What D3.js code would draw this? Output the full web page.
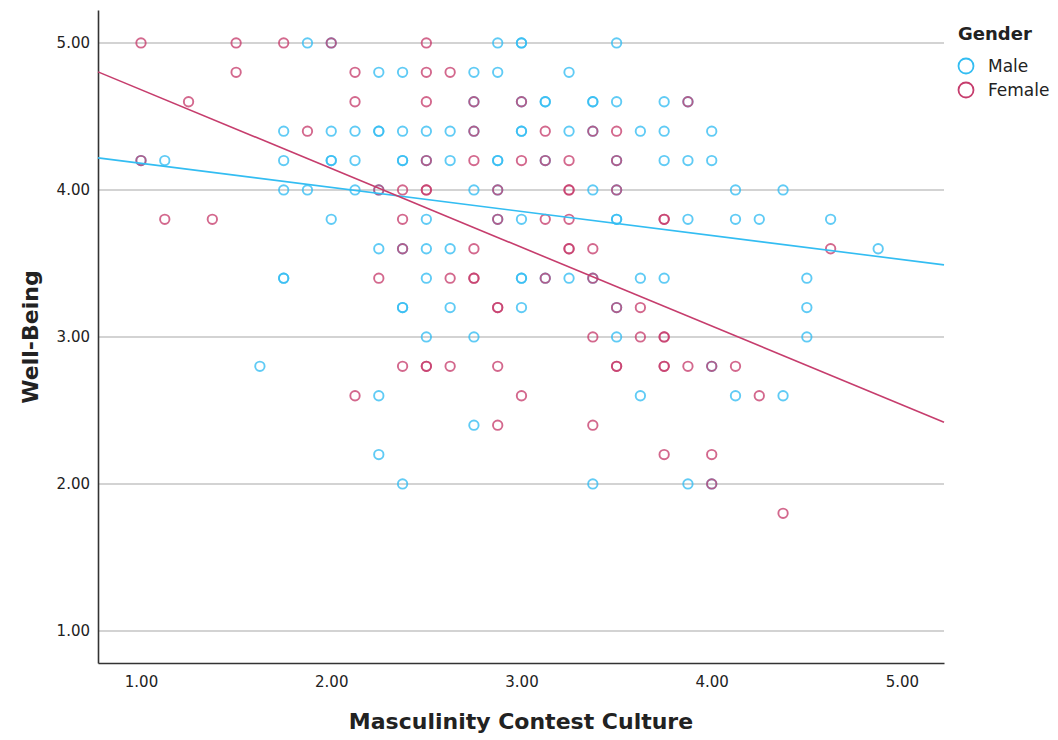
<!DOCTYPE html>
<html lang="en">
<head>
  <meta charset="UTF-8">
  <title>Well-Being by Masculinity Contest Culture</title>
  <script src="https://cdn.jsdelivr.net/npm/d3@7"></script>
  <style>
    body { margin: 0; background: #fff; }
    text { font-family: "DejaVu Sans", sans-serif; fill: #222; }
  </style>
</head>
<body>
  <svg width="1058" height="740"></svg>
  <script>
    // data (x = MCC score, y = well-being)
    var malePoints = [
      [1.875,5],[2,5],[2.875,5],[3,5],[3,5],[3.5,5],
      [2.25,4.8],[2.375,4.8],[2.75,4.8],[2.875,4.8],[3.25,4.8],
      [2.75,4.6],[3,4.6],[3.125,4.6],[3.125,4.6],[3.375,4.6],[3.375,4.6],[3.5,4.6],[3.75,4.6],[3.875,4.6],
      [1.75,4.4],[2,4.4],[2.125,4.4],[2.25,4.4],[2.25,4.4],[2.375,4.4],[2.5,4.4],[2.625,4.4],[2.75,4.4],[3,4.4],[3,4.4],[3.25,4.4],[3.375,4.4],[3.625,4.4],[3.75,4.4],[4,4.4],
      [1,4.2],[1.125,4.2],[1.75,4.2],[2,4.2],[2,4.2],[2.125,4.2],[2.375,4.2],[2.375,4.2],[2.5,4.2],[2.625,4.2],[2.875,4.2],[2.875,4.2],[3.125,4.2],[3.5,4.2],[3.75,4.2],[3.875,4.2],[4,4.2],
      [1.75,4],[1.875,4],[2.125,4],[2.25,4],[2.75,4],[2.875,4],[3.375,4],[3.5,4],[4.125,4],[4.375,4],
      [2,3.8],[2.5,3.8],[2.875,3.8],[3,3.8],[3.5,3.8],[3.5,3.8],[3.875,3.8],[4.125,3.8],[4.25,3.8],[4.625,3.8],
      [2.25,3.6],[2.375,3.6],[2.5,3.6],[2.625,3.6],[4.875,3.6],
      [1.75,3.4],[1.75,3.4],[2.5,3.4],[3,3.4],[3,3.4],[3.125,3.4],[3.25,3.4],[3.375,3.4],[3.625,3.4],[3.75,3.4],[4.5,3.4],
      [2.375,3.2],[2.375,3.2],[2.625,3.2],[3,3.2],[3.5,3.2],[4.5,3.2],
      [2.5,3],[2.75,3],[3.5,3],[4.5,3],
      [1.625,2.8],[4,2.8],
      [2.25,2.6],[3.625,2.6],[4.125,2.6],[4.375,2.6],
      [2.75,2.4],[2.25,2.2],
      [2.375,2],[3.375,2],[3.875,2],[4,2]
    ];
    var femalePoints = [
      [1,5],[1.5,5],[1.75,5],[2,5],[2.5,5],
      [1.5,4.8],[2.125,4.8],[2.5,4.8],[2.625,4.8],
      [1.25,4.6],[2.125,4.6],[2.5,4.6],[2.75,4.6],[3,4.6],[3.875,4.6],
      [1.875,4.4],[2.75,4.4],[3.125,4.4],[3.375,4.4],[3.5,4.4],
      [1,4.2],[2.5,4.2],[2.75,4.2],[3,4.2],[3.125,4.2],[3.25,4.2],[3.5,4.2],
      [2.25,4],[2.375,4],[2.5,4],[2.5,4],[2.875,4],[3.25,4],[3.25,4],[3.5,4],
      [1.125,3.8],[1.375,3.8],[2.375,3.8],[2.875,3.8],[3.125,3.8],[3.25,3.8],[3.75,3.8],[3.75,3.8],
      [2.375,3.6],[2.75,3.6],[3.25,3.6],[3.25,3.6],[3.375,3.6],[4.625,3.6],
      [2.25,3.4],[2.625,3.4],[2.75,3.4],[2.75,3.4],[3.125,3.4],[3.375,3.4],
      [2.875,3.2],[2.875,3.2],[3.5,3.2],[3.625,3.2],
      [3.375,3],[3.625,3],[3.75,3],[3.75,3],
      [2.375,2.8],[2.5,2.8],[2.5,2.8],[2.625,2.8],[2.875,2.8],[3.5,2.8],[3.5,2.8],[3.75,2.8],[3.75,2.8],[3.875,2.8],[4,2.8],[4.125,2.8],
      [2.125,2.6],[3,2.6],[4.25,2.6],
      [2.875,2.4],[3.375,2.4],
      [3.75,2.2],[4,2.2],
      [4,2],
      [4.375,1.8]
    ];
    // fit lines as drawn: [intercept, slope]
    var maleFit = [4.345, -0.1637];
    var femaleFit = [5.218, -0.536];

    var xTicks = [1, 2, 3, 4, 5];
    var yTicks = [1, 2, 3, 4, 5];
    var groups = ['Male', 'Female'];
    var colors = {Male: '#33bdf2', Female: '#c63d6d'};

    var svg = d3.select('svg');
    var plot = {left: 98, right: 944, top: 10, bottom: 663};

    var xScale = d3.scaleLinear().domain([0.774, 5.221]).range([plot.left, plot.right]);
    var yScale = d3.scaleLinear().domain([0.782, 5.224]).range([plot.bottom, plot.top]);

    // gridlines
    svg.append('g')
      .selectAll('line')
      .data(yTicks)
      .enter().append('line')
      .attr('x1', plot.left)
      .attr('x2', plot.right)
      .attr('y1', function(d) { return yScale(d); })
      .attr('y2', function(d) { return yScale(d); })
      .attr('stroke', '#c4c4c4')
      .attr('stroke-width', 1.5);

    var fmt = d3.format('.2f');
    var xAxis = d3.axisBottom(xScale).tickValues(xTicks).tickFormat(fmt)
      .tickSize(0).tickSizeOuter(0).tickPadding(13);
    var yAxis = d3.axisLeft(yScale).tickValues(yTicks).tickFormat(fmt)
      .tickSize(0).tickSizeOuter(0).tickPadding(8);

    var gx = svg.append('g')
      .attr('transform', 'translate(0,' + plot.bottom + ')')
      .call(xAxis);
    var gy = svg.append('g')
      .attr('transform', 'translate(' + plot.left + ',0)')
      .call(yAxis);
    [gx, gy].forEach(function(g) {
      g.attr('font-size', null).attr('font-family', null);
      g.select('.domain').attr('stroke', '#333').attr('stroke-width', 1.6);
      g.selectAll('text').style('font-size', '15px').attr('fill', '#222');
    });

    // points
    function drawPoints(points, group) {
      svg.append('g')
        .selectAll('circle')
        .data(points)
        .enter().append('circle')
        .attr('cx', function(d) { return xScale(d[0]); })
        .attr('cy', function(d) { return yScale(d[1]); })
        .attr('r', 4.7)
        .attr('fill', 'none')
        .attr('stroke', colors[group])
        .attr('stroke-opacity', 0.78)
        .attr('stroke-width', 1.9);
    }
    drawPoints(malePoints, 'Male');
    drawPoints(femalePoints, 'Female');

    // fit lines
    function drawFit(fit, group) {
      var xs = xScale.domain();
      svg.append('line')
        .attr('x1', xScale(xs[0]))
        .attr('x2', xScale(xs[1]))
        .attr('y1', yScale(fit[0] + fit[1] * xs[0]))
        .attr('y2', yScale(fit[0] + fit[1] * xs[1]))
        .attr('stroke', colors[group])
        .attr('stroke-width', 1.6);
    }
    drawFit(maleFit, 'Male');
    drawFit(femaleFit, 'Female');

    // axis titles
    svg.append('text')
      .attr('x', 521)
      .attr('y', 729)
      .attr('text-anchor', 'middle')
      .style('font-size', '22px')
      .style('font-weight', 'bold')
      .text('Masculinity Contest Culture');
    svg.append('text')
      .attr('transform', 'translate(38,337) rotate(-90)')
      .attr('text-anchor', 'middle')
      .style('font-size', '22px')
      .style('font-weight', 'bold')
      .text('Well-Being');

    // legend
    var legend = svg.append('g').attr('transform', 'translate(958,0)');
    legend.append('text')
      .attr('x', 0)
      .attr('y', 40)
      .style('font-size', '18px')
      .style('font-weight', 'bold')
      .text('Gender');
    groups.forEach(function(g, i) {
      legend.append('circle')
        .attr('cx', 8)
        .attr('cy', 66 + i * 24)
        .attr('r', 7.5)
        .attr('fill', 'none')
        .attr('stroke', colors[g])
        .attr('stroke-width', 1.8);
      legend.append('text')
        .attr('x', 30)
        .attr('y', 72 + i * 24)
        .style('font-size', '17px')
        .text(g);
    });
  </script>
</body>
</html>
